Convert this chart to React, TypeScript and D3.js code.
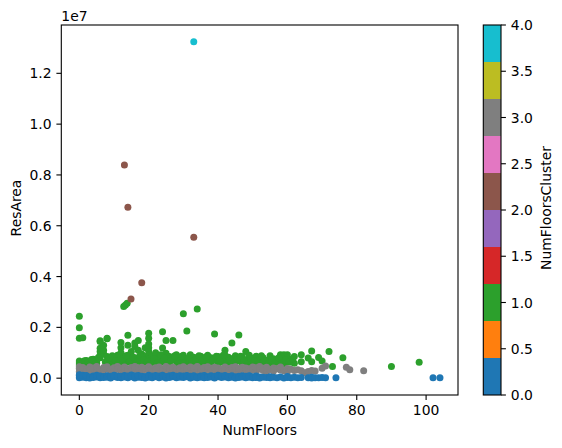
import React from "react";
import * as d3 from "d3";

// [NumFloors, ResArea] per cluster
const cluster0Points: [number, number][] = [
  [0,15000],[0,95000],[0,140000],[1,40000],[1,120000],[2,20000],[2,110000],[3,60000],[3,10000],[4,85000],[4,30000],[5,50000],[5,115000],[6,15000],[6,90000],[7,70000],[7,25000],[8,100000],[8,40000],[9,10000],[9,80000],[10,55000],[10,120000],[11,30000],[11,90000],[12,15000],[12,75000],[13,105000],[13,45000],[14,20000],[14,85000],[15,60000],[15,125000],[16,10000],[16,95000],[17,40000],[17,110000],[18,25000],[18,80000],[19,65000],[19,5000],[20,120000],[20,35000],[21,90000],[21,15000],[22,55000],[22,105000],[23,20000],[23,85000],[24,45000],[24,115000],[25,10000],[25,70000],[26,95000],[26,30000],[27,60000],[27,120000],[28,15000],[28,80000],[29,40000],[29,100000],[30,25000],[30,90000],[31,55000],[31,110000],[32,10000],[32,75000],[33,35000],[33,100000],[34,60000],[34,15000],[35,85000],[35,40000],[36,110000],[36,20000],[37,70000],[37,30000],[38,95000],[38,50000],[39,10000],[39,80000],[40,60000],[40,115000],[41,25000],[41,90000],[42,45000],[42,105000],[43,15000],[43,70000],[44,35000],[44,95000],[45,55000],[45,10000],[46,80000],[46,30000],[47,100000],[47,50000],[48,20000],[48,75000],[49,40000],[49,95000],[50,15000],[50,60000],[51,85000],[51,30000],[52,50000],[52,10000],[53,40000],[54,25000],[55,60000],[55,15000],[56,35000],[57,20000],[58,45000],[59,10000],[60,30000],[60,65000],[61,20000],[62,40000],[63,15000],[64,25000],[66,20000],[67,10000],[67,35000],[68,20000],[69,15000],[70,25000],[71,20000],[74,15000],[102,20000],[104,15000]
];

const cluster1Points: [number, number][] = [
  [0,520000],[0,600000],[0,680000],[1,550000],[1,640000],[2,700000],[2,580000],[3,620000],[3,530000],[4,660000],[4,750000],[5,590000],[5,700000],[6,800000],[6,900000],[6,1050000],[6,1180000],[6,1440000],[7,950000],[7,1100000],[7,1300000],[8,1570000],[8,850000],[8,650000],[9,720000],[9,560000],[10,780000],[10,620000],[11,900000],[11,700000],[12,1400000],[12,1200000],[12,1000000],[12,820000],[13,680000],[13,560000],[14,1690000],[14,1300000],[14,900000],[14,750000],[15,1050000],[15,620000],[16,1380000],[16,1250000],[16,800000],[17,1480000],[17,1100000],[17,700000],[18,950000],[18,580000],[19,850000],[19,1200000],[20,1770000],[20,1570000],[20,1350000],[20,1200000],[20,1050000],[20,900000],[20,750000],[21,620000],[21,880000],[22,700000],[22,1000000],[23,560000],[23,820000],[24,1830000],[24,1190000],[24,900000],[24,650000],[25,1480000],[25,980000],[25,720000],[26,600000],[26,850000],[27,1480000],[27,780000],[28,920000],[28,650000],[29,560000],[29,780000],[30,2540000],[30,700000],[30,900000],[31,1860000],[31,620000],[32,920000],[32,760000],[33,580000],[33,820000],[34,2720000],[34,700000],[35,860000],[35,600000],[36,750000],[36,540000],[37,900000],[37,680000],[38,620000],[38,800000],[39,1740000],[39,720000],[40,560000],[40,850000],[41,780000],[41,640000],[42,1100000],[42,900000],[42,700000],[43,580000],[43,820000],[44,1380000],[44,760000],[45,620000],[45,880000],[46,1700000],[46,700000],[47,560000],[47,840000],[48,1050000],[48,720000],[49,640000],[49,900000],[50,780000],[50,580000],[51,860000],[51,660000],[52,720000],[52,540000],[53,800000],[53,620000],[54,700000],[55,880000],[55,580000],[56,760000],[57,640000],[58,920000],[58,700000],[59,920000],[59,560000],[60,920000],[60,780000],[61,640000],[62,590000],[62,850000],[64,920000],[64,650000],[66,790000],[67,1070000],[67,650000],[69,810000],[70,680000],[72,1050000],[73,460000],[76,800000],[90,460000],[98,630000],[0,1570000],[0,1990000],[0,2440000],[1,1590000],[12.8,2820000],[13.3,2880000],[13.8,2950000],[8,1550000],[6,1470000],
  [0.5,560000],[1.5,690000],[2.5,620000],[3.5,740000],[4.5,560000],[5.5,810000],[7.5,640000],[8.5,780000],[9.5,880000],[10.5,690000],[11.5,600000],[12.5,760000],[13.5,880000],[14.5,640000],[15.5,820000],[16.5,660000],[17.5,890000],[18.5,720000],[19.5,640000],[21.5,760000],[22.5,600000],[23.5,920000],[24.5,780000],[25.5,620000],[26.5,710000],[27.5,880000],[28.5,580000],[29.5,860000],[30.5,620000],[31.5,790000],[32.5,650000],[33.5,720000],[34.5,880000],[35.5,700000],[36.5,830000],[37.5,590000],[38.5,720000],[39.5,860000],[40.5,680000],[41.5,900000],[42.5,600000],[43.5,720000],[44.5,610000],[45.5,740000],[46.5,860000],[47.5,690000],[48.5,580000],[49.5,760000],[50.5,680000],[51.5,560000],[52.5,880000],[53.5,700000],[54.5,580000],[55.5,720000],[56.5,620000],[57.5,800000],[58.5,600000],[59.5,720000],[60.5,640000],[61.5,760000]
];

const cluster2Points: [number, number][] = [
  [13,8390000],[14,6730000],[33,5550000],[18,3760000],[14.9,3120000]
];

const cluster3Points: [number, number][] = [
  [0,250000],[0,380000],[0,450000],[1,300000],[1,420000],[2,350000],[2,260000],[3,440000],[3,310000],[4,280000],[4,400000],[5,360000],[5,460000],[6,240000],[6,330000],[7,420000],[7,290000],[8,380000],[8,450000],[9,260000],[9,340000],[10,410000],[10,300000],[11,460000],[11,350000],[12,270000],[12,390000],[13,320000],[13,440000],[14,250000],[14,370000],[15,420000],[15,290000],[16,350000],[16,460000],[17,310000],[17,400000],[18,260000],[18,430000],[19,340000],[19,380000],[20,290000],[20,450000],[21,360000],[21,250000],[22,410000],[22,320000],[23,280000],[23,440000],[24,370000],[24,300000],[25,460000],[25,260000],[26,340000],[26,400000],[27,290000],[27,430000],[28,360000],[28,250000],[29,410000],[29,310000],[30,450000],[30,280000],[31,350000],[31,390000],[32,260000],[32,440000],[33,320000],[33,400000],[34,290000],[34,460000],[35,370000],[35,250000],[36,420000],[36,300000],[37,340000],[37,450000],[38,270000],[38,390000],[39,330000],[39,430000],[40,280000],[40,400000],[41,360000],[41,250000],[42,440000],[42,310000],[43,380000],[43,270000],[44,420000],[44,340000],[45,300000],[45,450000],[46,260000],[46,390000],[47,350000],[47,430000],[48,290000],[48,400000],[49,370000],[49,250000],[50,440000],[50,320000],[51,280000],[51,410000],[52,360000],[52,460000],[53,300000],[53,390000],[54,260000],[54,430000],[55,340000],[56,400000],[56,280000],[57,370000],[58,320000],[58,440000],[59,290000],[60,380000],[60,250000],[61,350000],[62,300000],[63,330000],[64,290000],[65,210000],[66,260000],[67,300000],[68,280000],[70,390000],[71,480000],[77,430000],[78,330000],[82,290000]
];

const cluster4Points: [number, number][] = [[33,13240000]];

const clusterIds = [1, 3, 0, 2, 4]; // drawing order
const clusterData: Record<number, [number, number][]> = {
  0: cluster0Points, 1: cluster1Points, 2: cluster2Points, 3: cluster3Points, 4: cluster4Points,
};

const xTicks = [0, 20, 40, 60, 80, 100];
const yTicks = [0, 2e6, 4e6, 6e6, 8e6, 10e6, 12e6];
const cbTicks = [0, 0.5, 1, 1.5, 2, 2.5, 3, 3.5, 4];
const tab10 = ["#1f77b4","#ff7f0e","#2ca02c","#d62728","#9467bd","#8c564b","#e377c2","#7f7f7f","#bcbd22","#17becf"];

const W = 562, H = 448;
const L = 61.3, R = 458, T = 25, B = 395;
const CBL = 483.3, CBR = 501;
const FONT = "DejaVu Sans, sans-serif";
const FS = 13.9;

export default function App() {
  const x = d3.scaleLinear().domain([-5.2, 109.2]).range([L, R]);
  const y = d3.scaleLinear().domain([-662000, 13902000]).range([B, T]);
  const cb = d3.scaleLinear().domain([0, 4]).range([B, T]);
  const color = (c: number) => tab10[Math.min(9, Math.floor((c / 4) * 10))];
  const segs = d3.range(10);
  return (
    <svg width={W} height={H} style={{ position: "absolute", left: 0, top: 0, background: "#fff" }} fontFamily={FONT}>
      <rect x={0} y={0} width={W} height={H} fill="#fff" />
      <defs>
        <clipPath id="plotclip"><rect x={L} y={T} width={R - L} height={B - T} /></clipPath>
      </defs>
      <g clipPath="url(#plotclip)">
        {clusterIds.map((c) =>
          clusterData[c].map((p, i) => (
            <circle key={`${c}-${i}`} cx={x(p[0])} cy={y(p[1])} r={3.5} fill={color(c)} />
          ))
        )}
      </g>
      <rect x={L} y={T} width={R - L} height={B - T} fill="none" stroke="#000" strokeWidth={1.1} />
      {xTicks.map((t) => (
        <g key={`xt${t}`}>
          <line x1={x(t)} x2={x(t)} y1={B} y2={B + 4.9} stroke="#000" strokeWidth={1.1} />
          <text x={x(t)} y={415} fontSize={FS} textAnchor="middle" fill="#000">{t}</text>
        </g>
      ))}
      {yTicks.map((t) => (
        <g key={`yt${t}`}>
          <line x1={L - 4.9} x2={L} y1={y(t)} y2={y(t)} stroke="#000" strokeWidth={1.1} />
          <text x={51.5} y={y(t) + 5} fontSize={FS} textAnchor="end" fill="#000">{(t / 1e7).toFixed(1)}</text>
        </g>
      ))}
      <text x={L} y={21} fontSize={FS} fill="#000">1e7</text>
      <text x={(L + R) / 2} y={435} fontSize={FS} textAnchor="middle" fill="#000">NumFloors</text>
      <text transform={`translate(21,208) rotate(-90)`} fontSize={FS} textAnchor="middle" fill="#000">ResArea</text>
      {segs.map((i) => (
        <rect key={`cb${i}`} x={CBL} width={CBR - CBL} y={cb((i + 1) * 0.4)} height={cb(i * 0.4) - cb((i + 1) * 0.4)} fill={tab10[i]} />
      ))}
      <rect x={CBL} y={T} width={CBR - CBL} height={B - T} fill="none" stroke="#000" strokeWidth={1.1} />
      {cbTicks.map((t) => (
        <g key={`cbt${t}`}>
          <line x1={CBR} x2={CBR + 4.9} y1={cb(t)} y2={cb(t)} stroke="#000" strokeWidth={1.1} />
          <text x={510.8} y={cb(t) + 5} fontSize={FS} fill="#000">{t.toFixed(1)}</text>
        </g>
      ))}
      <text transform={`translate(551,208) rotate(-90)`} fontSize={FS} textAnchor="middle" fill="#000">NumFloorsCluster</text>
    </svg>
  );
}
